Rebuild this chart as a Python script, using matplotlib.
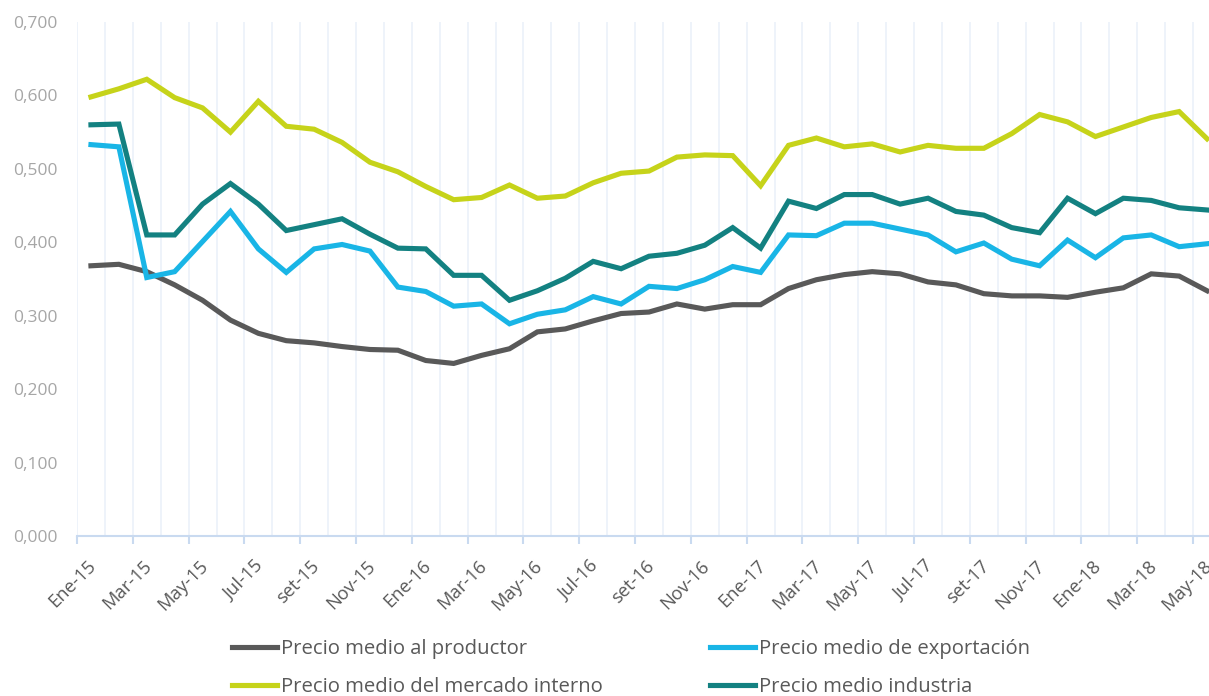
"""
Precios medios mensuales (Ene-15 a May-18): productor, exportacion,
mercado interno e industria.
Output: out.png
"""
import numpy as np
import matplotlib.pyplot as plt
import matplotlib.ticker as mticker
from matplotlib.lines import Line2D
from matplotlib.transforms import ScaledTranslation

plt.rcParams["font.family"] = ["Open Sans", "DejaVu Sans"]

MONTHS = ["Ene", "Feb", "Mar", "Abr", "May", "Jun",
          "Jul", "Ago", "set", "Oct", "Nov", "Dic"]
periods = [f"{m}-{y}" for y in ("15", "16", "17") for m in MONTHS] + \
          [f"{m}-18" for m in MONTHS[:5]]

productor = [0.368, 0.370, 0.360, 0.342, 0.321, 0.294, 0.276, 0.266, 0.263, 0.258,
             0.254, 0.253, 0.239, 0.235, 0.246, 0.255, 0.278, 0.282, 0.293, 0.303,
             0.305, 0.316, 0.309, 0.315, 0.315, 0.337, 0.349, 0.356, 0.360, 0.357,
             0.346, 0.342, 0.330, 0.327, 0.327, 0.325, 0.332, 0.338, 0.357, 0.354,
             0.334]
exportacion = [0.533, 0.530, 0.352, 0.360, 0.401, 0.442, 0.391, 0.359, 0.391, 0.397,
               0.388, 0.339, 0.333, 0.313, 0.316, 0.289, 0.302, 0.308, 0.326, 0.316,
               0.340, 0.337, 0.349, 0.367, 0.359, 0.410, 0.409, 0.426, 0.426, 0.418,
               0.410, 0.387, 0.399, 0.377, 0.368, 0.403, 0.379, 0.406, 0.410, 0.394,
               0.398]
mercado_interno = [0.598, 0.609, 0.622, 0.597, 0.583, 0.550, 0.592, 0.558, 0.554, 0.536,
                   0.509, 0.496, 0.476, 0.458, 0.461, 0.478, 0.460, 0.463, 0.481, 0.494,
                   0.497, 0.516, 0.519, 0.518, 0.477, 0.532, 0.542, 0.530, 0.534, 0.523,
                   0.532, 0.528, 0.528, 0.548, 0.574, 0.564, 0.544, 0.557, 0.570, 0.578,
                   0.541]
industria = [0.560, 0.561, 0.410, 0.410, 0.452, 0.480, 0.452, 0.416, 0.424, 0.432,
             0.411, 0.392, 0.391, 0.355, 0.355, 0.321, 0.334, 0.351, 0.374, 0.364,
             0.381, 0.385, 0.396, 0.420, 0.392, 0.456, 0.446, 0.465, 0.465, 0.452,
             0.460, 0.442, 0.437, 0.420, 0.413, 0.460, 0.439, 0.460, 0.457, 0.447,
             0.444]

GRAY = "#595959"; BLUE = "#19B5E6"; LIME = "#C6D31A"; TEAL = "#138181"
AXC = "#C9DAF0"; GRIDC = "#EBF1FA"; TICKC = "#A6A6A6"

series = [("Precio medio al productor", productor, GRAY),
          ("Precio medio del mercado interno", mercado_interno, LIME),
          ("Precio medio de exportación", exportacion, BLUE),
          ("Precio medio industria", industria, TEAL)]

fig = plt.figure(figsize=(12.09, 6.96), dpi=100)
ax = fig.add_axes([77 / 1209, 1 - 536 / 696, 1 - 77 / 1209, (536 - 22) / 696])

x = np.arange(len(periods))
# vertical gridlines between categories
ax.vlines(np.arange(-0.5, len(periods), 1), 0, 0.7, color=GRIDC, lw=1.2, zorder=0)

# draw order as in the source: productor, exportacion, mercado, industria
for name, vals, col in [series[0], series[2], series[1], series[3]]:
    ax.plot(x, vals, color=col, lw=3.7, solid_joinstyle="miter", zorder=3)

ax.set_xlim(-0.5, 40.07)
ax.set_ylim(0, 0.7)
ax.yaxis.set_major_locator(mticker.MultipleLocator(0.1))
ax.yaxis.set_major_formatter(mticker.FuncFormatter(lambda v, p: f"{v:.3f}".replace(".", ",")))

ax.set_xticks(x[::2])
ax.set_xticklabels(periods[::2], rotation=45, ha="right", rotation_mode="anchor")
ax.set_xticks(np.arange(-0.5, len(periods), 2), minor=True)
ax.tick_params(axis="x", which="major", length=0, pad=15, labelsize=13.2, labelcolor=GRAY)
ax.tick_params(axis="x", which="minor", length=6, width=1.5, color=AXC)
ax.tick_params(axis="y", length=0, pad=14, labelsize=12.5, labelcolor=TICKC)
shift = ScaledTranslation(-4 / 100, 0, fig.dpi_scale_trans)
for lbl in ax.get_xticklabels():
    lbl.set_transform(lbl.get_transform() + shift)

for s in ("top", "right", "left"):
    ax.spines[s].set_visible(False)
ax.spines["bottom"].set_color(AXC)
ax.spines["bottom"].set_linewidth(1.5)

handles = [Line2D([], [], color=c, lw=3.7, label=n) for n, _, c in series]
fig.legend(handles=handles, ncol=2, loc="center left",
           bbox_to_anchor=(232 / 1209, 1 - 668 / 696), frameon=False,
           fontsize=14.6, labelcolor=GRAY, handlelength=2.2, handletextpad=0.2,
           columnspacing=5.3, labelspacing=0.87, borderpad=0, borderaxespad=0)

fig.savefig("out.png", dpi=100)
